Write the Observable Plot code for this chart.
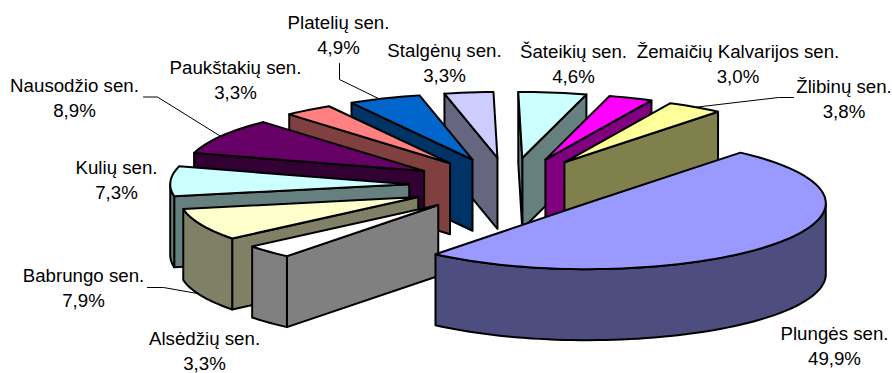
<!DOCTYPE html>
<html lang="lt">
<head>
<meta charset="utf-8">
<script src="https://cdn.jsdelivr.net/npm/d3@7"></script>
<script src="https://cdn.jsdelivr.net/npm/@observablehq/plot@0.6"></script>
<style>
  html, body { margin: 0; padding: 0; background: #fff; }
</style>
</head>
<body>
<div id="chart"></div>
<script>
// Seniūnijų dalys, procentais, pagal laikrodžio rodyklę
const names = ["Plungės sen.", "Alsėdžių sen.", "Babrungo sen.", "Kulių sen.", "Nausodžio sen.",
  "Paukštakių sen.", "Platelių sen.", "Stalgėnų sen.", "Šateikių sen.", "Žemaičių Kalvarijos sen.", "Žlibinų sen."];
const shares = [49.9, 3.3, 7.9, 7.3, 8.9, 3.3, 4.9, 3.3, 4.6, 3.0, 3.8];
const topColors = ["#9999ff", "#ffffff", "#ffffcc", "#ccffff", "#660066", "#ff8080",
  "#0066cc", "#ccccff", "#ccffff", "#ff00ff", "#ffff99"];
const sideColors = ["#4d4d80", "#808080", "#808066", "#668080", "#330033", "#804040",
  "#003366", "#666680", "#668080", "#800080", "#80804d"];

// Pie layout in the drawing's pixel space
const pie = {cx: 509, cy: 185, rx: 239, ry: 66, depth: 71, explode: 0.42, start: 50};
const labelSpots = [
  [834, 334], [204, 339], [83, 276], [116, 168], [74, 86],
  [235, 68], [338, 23], [444, 51], [573, 52], [737.5, 52], [843.5, 87]
];
const leaders = [
  {id: "Nausodžio", path: [[143, 96.5], [157, 96.5], [222, 137]]},
  {id: "Platelių", path: [[339, 63], [339, 79], [380, 99]]},
  {id: "Žlibinų", path: [[793, 97], [778, 97], [693, 107]]},
  {id: "Babrungo", path: [[147, 287], [163, 287], [197, 293]]}
];

const total = d3.sum(shares);
const rad = Math.PI / 180;

let from = pie.start;
const slices = shares.map((share, i) => {
  const a = from;
  const b = a - (share / total) * 360;
  from = b;
  const mid = ((a + b) / 2) * rad;
  return {
    i, a, b,
    ax: pie.cx + pie.explode * pie.rx * Math.cos(mid),
    ay: pie.cy - pie.explode * pie.ry * Math.sin(mid)
  };
});

const rim = (s, deg, h = 0) => [
  s.ax + pie.rx * Math.cos(deg * rad),
  s.ay - pie.ry * Math.sin(deg * rad) + h
];
const arc = (s, hi, lo, h = 0) => {
  const n = Math.max(1, Math.ceil((hi - lo) / 2));
  return d3.range(n + 1).map((k) => rim(s, hi + ((lo - hi) * k) / n, h));
};

// Slices nearest the back go first; the large slice always lands on top
const backness = (s) => {
  const d = Math.abs((((s.a + s.b) / 2 - 90) % 360 + 540) % 360 - 180);
  return s.i === 0 ? Infinity : d;
};
const polygons = [];
let polygonId = 0;
const addPolygon = (pts, fill) => {
  const id = polygonId++;
  [...pts, pts[0]].forEach(([x, y]) => polygons.push({id, x, y, fill}));
};
for (const s of d3.sort(slices, backness)) {
  const side = sideColors[s.i];
  const apexTop = [s.ax, s.ay];
  const apexLow = [s.ax, s.ay + pie.depth];
  // Cut faces that turn towards the viewer
  if (Math.cos(s.b * rad) > 0) {
    addPolygon([apexTop, rim(s, s.b), rim(s, s.b, pie.depth), apexLow], side);
  }
  if (Math.cos(s.a * rad) < 0) {
    addPolygon([apexTop, rim(s, s.a), rim(s, s.a, pie.depth), apexLow], side);
  }
  // Outer wall, only along the front half of the rim
  const hi = Math.min(s.a, 0);
  const lo = Math.max(s.b, -180);
  if (hi > lo) {
    addPolygon([...arc(s, hi, lo), ...arc(s, hi, lo, pie.depth).reverse()], side);
  }
  addPolygon([apexTop, ...arc(s, s.a, s.b)], topColors[s.i]);
}

const labels = names.map((name, i) => ({
  x: labelSpots[i][0],
  y: labelSpots[i][1],
  text: `${name}\n${shares[i].toFixed(1).replace(".", ",")}%`
}));
const leaderPoints = leaders.flatMap(({id, path}) => path.map(([x, y]) => ({id, x, y})));

const chart = Plot.plot({
  width: 892,
  height: 373,
  margin: 0,
  x: {domain: [0, 892], range: [0, 892], axis: null},
  y: {domain: [0, 373], range: [0, 373], axis: null},
  color: {type: "identity"},
  style: {background: "#fff"},
  marks: [
    Plot.line(leaderPoints, {x: "x", y: "y", z: "id", stroke: "#000", strokeWidth: 1}),
    Plot.line(polygons, {
      x: "x", y: "y", z: "id", fill: "fill",
      stroke: "#000", strokeWidth: 2, strokeLinejoin: "round"
    }),
    Plot.text(labels, {
      x: "x", y: "y", text: "text", lineHeight: 1.33,
      lineAnchor: "middle", dy: 10,
      fontFamily: "Liberation Sans", fontSize: 18.7, fill: "#000"
    })
  ]
});
document.getElementById("chart").appendChild(chart);
</script>
</body>
</html>
